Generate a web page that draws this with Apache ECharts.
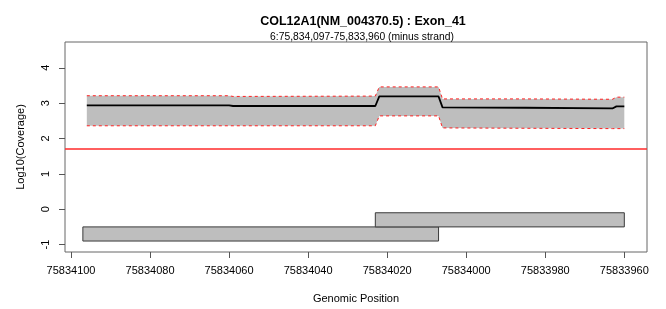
<!DOCTYPE html>
<html>
<head>
<meta charset="utf-8">
<script src="https://cdn.jsdelivr.net/npm/echarts@6/dist/echarts.min.js"></script>
<style>html,body{margin:0;padding:0;background:#fff}#c{width:666px;height:309px}</style>
</head>
<body>
<div id="c"></div>
<script>
// ---- data ----
const titleText = 'COL12A1(NM_004370.5) : Exon_41';
const subtitleText = '6:75,834,097-75,833,960 (minus strand)';
const xAxisName = 'Genomic Position';
const yAxisName = 'Log10(Coverage)';
const xTicks = [75834100, 75834080, 75834060, 75834040, 75834020, 75834000, 75833980, 75833960];
const yTicks = [-1, 0, 1, 2, 3, 4];
const positions = [75834096, 75834060, 75834059, 75834023, 75834022, 75834007, 75834006, 75833985, 75833963, 75833962, 75833960];
const meanCov   = [2.94, 2.94, 2.92, 2.92, 3.19, 3.19, 2.88, 2.87, 2.85, 2.91, 2.91];
const upperCov  = [3.21, 3.21, 3.19, 3.20, 3.46, 3.46, 3.12, 3.12, 3.11, 3.17, 3.17];
const lowerCov  = [2.36, 2.36, 2.36, 2.36, 2.64, 2.64, 2.30, 2.29, 2.28, 2.28, 2.28];
const threshold = 1.699;
const featStart = [75834097, 75834023];
const featEnd   = [75834007, 75833960];
const featLow   = [-0.9, -0.5];
const featHigh  = [-0.5, -0.1];

const font = 'Liberation Sans, Arial, Helvetica, sans-serif';
const chart = echarts.init(document.getElementById('c'), null, {renderer: 'canvas'});

const bandData = [[positions[0], lowerCov[0]]];
const featData = featStart.map((s, i) => [s, featEnd[i], featLow[i], featHigh[i]]);

chart.setOption({
  animation: false,
  backgroundColor: '#ffffff',
  title: [
    {text: titleText, left: 358, top: 10, textAlign: 'center',
     textStyle: {fontFamily: font, fontSize: 12.5, fontWeight: 'bold', color: '#000'}},
    {text: subtitleText, left: 357, top: 27, textAlign: 'center',
     textStyle: {fontFamily: font, fontSize: 10.3, fontWeight: 'normal', color: '#000'}}
  ],
  grid: {left: 65, right: 19, top: 42, bottom: 54, show: true, borderColor: '#666', borderWidth: 1, backgroundColor: 'transparent'},
  xAxis: {
    type: 'value', inverse: true, min: 75833954.26, max: 75834101.52,
    name: xAxisName, nameLocation: 'middle', nameGap: 41,
    nameTextStyle: {fontFamily: font, fontSize: 11, color: '#000'},
    axisLine: {show: false, onZero: false},
    axisTick: {show: true, inside: false, length: 6, lineStyle: {color: '#555'}, customValues: xTicks},
    axisLabel: {fontFamily: font, fontSize: 11, color: '#000', margin: 13, customValues: xTicks,
                formatter: v => String(v)},
    splitLine: {show: false}
  },
  yAxis: {
    type: 'value', min: -1.21, max: 4.73,
    name: yAxisName, nameLocation: 'middle', nameGap: 39, nameRotate: 90,
    nameTextStyle: {fontFamily: font, fontSize: 11, color: '#000'},
    axisLine: {show: false, onZero: false},
    axisTick: {show: true, inside: false, length: 6, lineStyle: {color: '#555'}, customValues: yTicks},
    axisLabel: {fontFamily: font, fontSize: 11, color: '#000', margin: 14, rotate: 90, customValues: yTicks,
                formatter: v => String(v)},
    splitLine: {show: false}
  },
  series: [
    {
      type: 'custom', name: 'band', z: 1,
      data: bandData,
      renderItem: function (params, api) {
        const pts = [];
        for (let i = 0; i < positions.length; i++) pts.push(api.coord([positions[i], upperCov[i]]));
        for (let i = positions.length - 1; i >= 0; i--) pts.push(api.coord([positions[i], lowerCov[i]]));
        return {type: 'polygon', shape: {points: pts}, style: {fill: '#BEBEBE', stroke: null}};
      }
    },
    {
      type: 'line', name: 'upper', z: 2, showSymbol: false, symbol: 'none',
      data: positions.map((x, i) => [x, upperCov[i]]),
      lineStyle: {color: '#ff2020', width: 1, type: [3, 3]}
    },
    {
      type: 'line', name: 'lower', z: 2, showSymbol: false, symbol: 'none',
      data: positions.map((x, i) => [x, lowerCov[i]]),
      lineStyle: {color: '#ff2020', width: 1, type: [3, 3]}
    },
    {
      type: 'line', name: 'mean', z: 3, showSymbol: false, symbol: 'none',
      data: positions.map((x, i) => [x, meanCov[i]]),
      lineStyle: {color: '#000', width: 1.8},
      markLine: {
        silent: true, symbol: 'none', label: {show: false},
        lineStyle: {color: '#ff2a2a', width: 1.5, type: 'solid'},
        data: [{yAxis: threshold}]
      }
    },
    {
      type: 'custom', name: 'features', z: 4,
      data: featData,
      encode: {x: [0, 1], y: [2, 3]},
      renderItem: function (params, api) {
        const a = api.coord([api.value(0), api.value(3)]);
        const b = api.coord([api.value(1), api.value(2)]);
        return {
          type: 'rect',
          shape: {x: Math.min(a[0], b[0]), y: Math.min(a[1], b[1]), width: Math.abs(b[0] - a[0]), height: Math.abs(b[1] - a[1])},
          style: {fill: '#BEBEBE', stroke: '#3a3a3a', lineWidth: 1}
        };
      }
    }
  ]
});
</script>
</body>
</html>
